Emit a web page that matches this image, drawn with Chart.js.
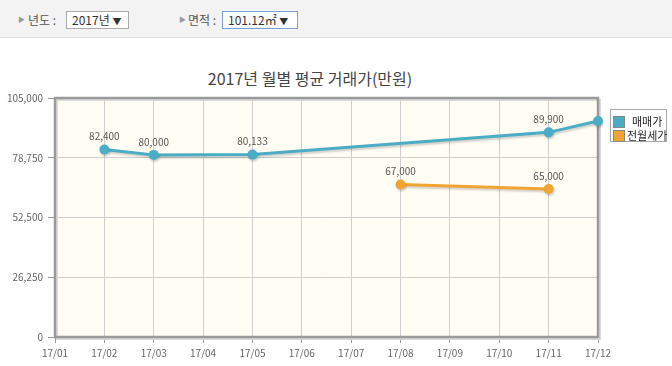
<!DOCTYPE html>
<html>
<head>
<meta charset="utf-8">
<script src="https://cdn.jsdelivr.net/npm/chart.js@4/dist/chart.umd.min.js"></script>
<style>
  body { margin: 0; width: 672px; height: 366px; background: #fff; font-family: "Noto Sans CJK KR", "Noto Sans", sans-serif; overflow: hidden; position: relative; }
  .bar { position: absolute; left: 0; top: 0; width: 672px; height: 37px; background: #f3f3f3; border-bottom: 1px solid #dcdcdc; font-size: 12px; color: #555; }
  .bar .tri { position: absolute; top: 14px; font-size: 7px; color: #999; }
  .bar .lbl { position: absolute; top: 11px; white-space: nowrap; }
  .bar .sel { position: absolute; top: 11px; height: 18px; line-height: 16px; border: 1px solid #aaa; background: #fff; padding: 0 5px; font-size: 12px; color: #333; box-sizing: border-box; white-space: nowrap; }
  .bar .sel i { font-style: normal; font-size: 9px; }
  #title { position: absolute; left: 0; width: 620px; top: 66px; text-align: center; font-size: 16px; color: #444; }
  #wrap { position: absolute; left: 0; top: 38px; width: 672px; height: 328px; }
  #legend { position: absolute; left: 610px; top: 109px; width: 57px; height: 33px; border: 1px solid #aaa; background: #fff; font-size: 11px; color: #222; box-sizing: border-box; z-index: 2; }
  #legend div { position: absolute; white-space: nowrap; }
  #legend span { display: inline-block; width: 12px; height: 12px; vertical-align: -2px; margin-right: 2px; border: 1px solid #888; box-sizing: border-box; }
</style>
</head>
<body>
<div class="bar">
  <span class="tri" style="left:18px">&#9654;</span>
  <span class="lbl" style="left:28px">년도 :</span>
  <span class="sel" style="left:66px;width:63px">2017년 <i>&#9660;</i></span>
  <span class="tri" style="left:179px">&#9654;</span>
  <span class="lbl" style="left:188px">면적 :</span>
  <span class="sel" style="left:222px;width:76px;border-color:#7f9fd0">101.12㎡ <i>&#9660;</i></span>
</div>
<div id="title">2017년 월별 평균 거래가(만원)</div>
<div id="legend">
  <div style="left:2px;top:3px"><span style="background:#4aacc5"></span>&nbsp;&nbsp;매매가</div>
  <div style="left:2px;top:17px"><span style="background:#f0a431"></span>전월세가</div>
</div>
<div id="wrap"><canvas id="chart" width="672" height="328"></canvas></div>
<script>
const months = ['17/01', '17/02', '17/03', '17/04', '17/05', '17/06', '17/07', '17/08', '17/09', '17/10', '17/11', '17/12'];
const salePrice = [null, 82400, 80000, null, 80133, null, null, null, null, null, 89900, 94900];
const rentPrice = [null, null, null, null, null, null, null, 67000, null, null, 65000, null];
const yTicks = [0, 26250, 52500, 78750, 105000];

const tickFont = { family: '"Noto Sans CJK KR", sans-serif', size: 10 };

// plot background, frame, line shadow and value labels
const plotFrame = {
    id: 'plotFrame',
    beforeDraw(chart) {
        const { ctx, chartArea: a } = chart;
        ctx.save();
        ctx.fillStyle = '#fffdf4';
        ctx.fillRect(a.left, a.top, a.right - a.left, a.bottom - a.top);
        ctx.restore();
    },
    beforeDatasetsDraw(chart) {
        const { ctx, chartArea: a } = chart;
        ctx.save();
        ctx.strokeStyle = '#dadada';
        ctx.lineWidth = 2;
        ctx.strokeRect(a.left + 2, a.top + 2, a.right - a.left, a.bottom - a.top);
        ctx.strokeStyle = '#9a9a9a';
        ctx.lineWidth = 2.5;
        ctx.strokeRect(a.left, a.top, a.right - a.left, a.bottom - a.top);
        ctx.restore();
        ctx.save();
        ctx.shadowColor = 'rgba(0,0,0,0.18)';
        ctx.shadowOffsetX = 1;
        ctx.shadowOffsetY = 2;
        ctx.shadowBlur = 2;
    },
    afterDatasetsDraw(chart) {
        const { ctx, chartArea: a } = chart;
        ctx.restore();
        ctx.save();
        ctx.font = '10px "Noto Sans CJK KR", sans-serif';
        ctx.fillStyle = '#555';
        ctx.textAlign = 'center';
        ctx.textBaseline = 'bottom';
        chart.data.datasets.forEach((ds, i) => {
            chart.getDatasetMeta(i).data.forEach((pt, j) => {
                const v = ds.data[j];
                if (v == null) return;
                const txt = v.toLocaleString('en-US');
                const w = ctx.measureText(txt).width;
                if (pt.x + w / 2 > a.right) return;
                ctx.fillText(txt, pt.x, pt.y - 8);
            });
        });
        ctx.restore();
    }
};

new Chart(document.getElementById('chart'), {
    type: 'line',
    data: {
        labels: months,
        datasets: [
            {
                label: '매매가',
                data: salePrice,
                borderColor: '#4aacc5',
                backgroundColor: '#4aacc5',
                borderWidth: 3,
                pointRadius: 5,
                pointBorderWidth: 0,
                pointHoverRadius: 5,
                spanGaps: true,
                tension: 0
            },
            {
                label: '전월세가',
                data: rentPrice,
                borderColor: '#f0a431',
                backgroundColor: '#f0a431',
                borderWidth: 3,
                pointRadius: 5,
                pointBorderWidth: 0,
                pointHoverRadius: 5,
                spanGaps: true,
                tension: 0
            }
        ]
    },
    options: {
        responsive: false,
        animation: false,
        layout: { padding: { top: 60, right: 74, left: 0, bottom: 0 } },
        plugins: {
            legend: { display: false },
            title: { display: false },
            tooltip: { enabled: false }
        },
        scales: {
            x: {
                offset: false,
                grid: { color: '#cfcfcf', lineWidth: 1, tickLength: 6, tickColor: '#999' },
                border: { display: false },
                ticks: { color: '#666', font: tickFont, maxRotation: 0, autoSkip: false, padding: 4 },
                afterFit(s) { s.height = 29; }
            },
            y: {
                min: 0,
                max: 105000,
                afterBuildTicks(s) { s.ticks = yTicks.map(v => ({ value: v })); },
                grid: { color: '#cfcfcf', lineWidth: 1, tickLength: 7, tickColor: '#999' },
                border: { display: false },
                ticks: {
                    color: '#666',
                    font: tickFont,
                    padding: 5,
                    callback: v => v.toLocaleString('en-US')
                },
                afterFit(s) { s.width = 55; }
            }
        }
    },
    plugins: [plotFrame]
});
</script>
</body>
</html>
